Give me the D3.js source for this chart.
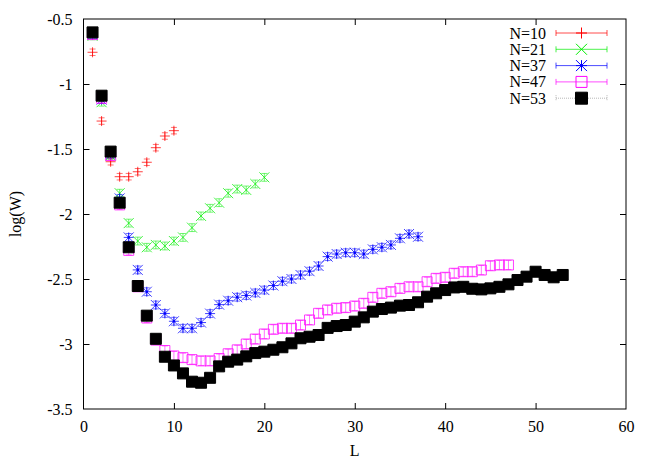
<!DOCTYPE html>
<html>
<head>
<meta charset="utf-8">
<script src="https://cdn.jsdelivr.net/npm/d3@7"></script>
<style>
  body { margin: 0; background: #fff; }
  text { font-family: "Liberation Serif", "Times New Roman", serif; font-size: 16px; fill: #000; }
</style>
</head>
<body>
<div id="plot"></div>
<script>
// values, index i -> L = i + 1
var n10 = [-0.756, -1.285, -1.598, -1.713, -1.713, -1.675, -1.602, -1.49, -1.40, -1.359];
var n21 = [-0.63, -1.14, -1.55, -1.84, -2.07, -2.208, -2.256, -2.238, -2.246, -2.208,
           -2.18, -2.105, -2.015, -1.956, -1.913, -1.84, -1.808, -1.815, -1.769, -1.718];
var n37 = [-0.62, -1.12, -1.54, -1.88, -2.18, -2.43, -2.598, -2.70, -2.765, -2.825,
           -2.879, -2.879, -2.835, -2.766, -2.697, -2.667, -2.64, -2.627, -2.607, -2.585,
           -2.55, -2.517, -2.5, -2.469, -2.44, -2.4, -2.328, -2.308, -2.298, -2.298,
           -2.308, -2.272, -2.256, -2.238, -2.187, -2.154, -2.175];
var n47 = [-0.62, -1.11, -1.55, -1.93, -2.28, -2.56, -2.80, -2.97, -3.05, -3.092,
           -3.105, -3.12, -3.13, -3.13, -3.112, -3.075, -3.045, -3.0, -2.962, -2.923,
           -2.887, -2.879, -2.879, -2.854, -2.815, -2.764, -2.738, -2.725, -2.72, -2.708,
           -2.687, -2.641, -2.61, -2.598, -2.572, -2.56, -2.56, -2.521, -2.495, -2.487,
           -2.456, -2.444, -2.444, -2.431, -2.398, -2.392, -2.392];
var n53 = [-0.603, -1.09, -1.52, -1.913, -2.256, -2.554, -2.782, -2.96, -3.098, -3.165,
           -3.226, -3.29, -3.298, -3.26, -3.172, -3.136, -3.12, -3.095, -3.07, -3.059,
           -3.044, -3.025, -2.995, -2.956, -2.944, -2.931, -2.876, -2.862, -2.854, -2.828,
           -2.795, -2.751, -2.731, -2.72, -2.705, -2.7, -2.679, -2.636, -2.61, -2.585,
           -2.565, -2.56, -2.575, -2.58, -2.572, -2.56, -2.541, -2.508, -2.482, -2.444,
           -2.469, -2.487, -2.469];

var seriesNames = ["N=10", "N=21", "N=37", "N=47", "N=53"];
var seriesValues = [n10, n21, n37, n47, n53];
var seriesErr = [0.025, 0.03, 0.03, 0.035, 0.03];
var seriesColors = ["#ff0000", "#00ee00", "#0000ff", "#ff00ff", "#000000"];
var seriesShapes = ["plus", "cross", "star", "box", "fbox"];

var xTicks = [0, 10, 20, 30, 40, 50, 60];
var yTicks = [-0.5, -1, -1.5, -2, -2.5, -3, -3.5];

var W = 654, H = 458;
var margin = {top: 19, right: 28, bottom: 49, left: 83.5};

var svg = d3.select("#plot")
  .append("svg")
  .attr("width", W)
  .attr("height", H);

var x = d3.scaleLinear()
  .domain([0, 60])
  .range([margin.left, W - margin.right]);

var y = d3.scaleLinear()
  .domain([-3.5, -0.5])
  .range([H - margin.bottom, margin.top]);

// border
svg.append("rect")
  .attr("x", x(0)).attr("y", y(-0.5))
  .attr("width", x(60) - x(0)).attr("height", y(-3.5) - y(-0.5))
  .attr("fill", "none").attr("stroke", "#000").attr("stroke-width", 1);

// ticks, mirrored, pointing inward
var tickLen = 6;
var plain = function(d) { return String(d); };
svg.append("g").attr("transform", "translate(0," + y(-3.5) + ")")
  .call(d3.axisBottom(x).tickValues(xTicks).tickSize(-tickLen).tickPadding(12).tickFormat(plain));
svg.append("g").attr("transform", "translate(0," + y(-0.5) + ")")
  .call(d3.axisTop(x).tickValues(xTicks).tickSize(-tickLen).tickFormat(""));
svg.append("g").attr("transform", "translate(" + x(0) + ",0)")
  .call(d3.axisLeft(y).tickValues(yTicks).tickSize(-tickLen).tickPadding(11).tickFormat(plain));
svg.append("g").attr("transform", "translate(" + x(60) + ",0)")
  .call(d3.axisRight(y).tickValues(yTicks).tickSize(-tickLen).tickFormat(""));

svg.selectAll(".domain").remove();
svg.selectAll(".tick line").attr("stroke", "#000");
svg.selectAll(".tick text")
  .attr("font-family", "Liberation Serif, serif")
  .attr("font-size", 16)
  .attr("fill", "#000");
// the end ticks sit on the border, hide them
svg.selectAll(".tick").filter(function(d) { return d === 0 || d === 60 || d === -0.5 || d === -3.5; })
  .select("line").remove();

// axis labels
svg.append("text")
  .attr("x", x(30)).attr("y", 456)
  .attr("text-anchor", "middle")
  .text("L");

svg.append("text")
  .attr("transform", "translate(21," + y(-2) + ") rotate(-90)")
  .attr("text-anchor", "middle")
  .text("log(W)");

// marker path
function symbol(shape, s) {
  if (shape == "plus") return "M" + (-s) + ",0H" + s + "M0," + (-s) + "V" + s;
  if (shape == "cross") return "M" + (-s) + "," + (-s) + "L" + s + "," + s + "M" + (-s) + "," + s + "L" + s + "," + (-s);
  if (shape == "star") return symbol("plus", s) + symbol("cross", s);
  return "M" + (-s) + "," + (-s) + "H" + s + "V" + s + "H" + (-s) + "Z";
}

var plot = svg.append("g");

seriesValues.forEach(function(vals, k) {
  var color = seriesColors[k];
  var shape = seriesShapes[k];
  var err = seriesErr[k];
  var s = shape == "fbox" ? 5.5 : 5;
  var g = plot.append("g");
  var pts = vals.map(function(v, i) { return {L: i + 1, v: v}; });

  // error bars
  var eb = g.selectAll(".eb").data(pts).enter().append("path")
    .attr("d", function(d) {
      var px = x(d.L), y0 = y(d.v - err), y1 = y(d.v + err), c = 3;
      return "M" + px + "," + y0 + "V" + y1 +
             "M" + (px - c) + "," + y0 + "H" + (px + c) +
             "M" + (px - c) + "," + y1 + "H" + (px + c);
    })
    .attr("fill", "none")
    .attr("stroke", shape == "fbox" ? "#999" : color)
    .attr("stroke-opacity", 0.55)
    .attr("stroke-width", 1);
  if (shape == "fbox") eb.attr("stroke-dasharray", "1,1");

  g.selectAll(".pt").data(pts).enter().append("path")
    .attr("transform", function(d) { return "translate(" + x(d.L) + "," + y(d.v) + ")"; })
    .attr("d", symbol(shape, s))
    .attr("fill", shape == "fbox" ? "#000" : "none")
    .attr("stroke", color)
    .attr("stroke-opacity", shape == "fbox" ? 1 : 0.75)
    .attr("stroke-width", 1);

  if (shape == "star") {
    g.selectAll(".dot").data(pts).enter().append("circle")
      .attr("cx", function(d) { return x(d.L); })
      .attr("cy", function(d) { return y(d.v); })
      .attr("r", 1.3)
      .attr("fill", color);
  }

  // legend row
  var ly = 33 + k * 16.3;
  var lx0 = 556, lx1 = 607, lxm = (lx0 + lx1) / 2;
  svg.append("text")
    .attr("x", 546).attr("y", ly + 5.5)
    .attr("text-anchor", "end")
    .text(seriesNames[k]);
  var leg = svg.append("path")
    .attr("d", "M" + lx0 + "," + ly + "H" + lx1 +
               "M" + lx0 + "," + (ly - 3) + "V" + (ly + 3) +
               "M" + lx1 + "," + (ly - 3) + "V" + (ly + 3))
    .attr("fill", "none")
    .attr("stroke", shape == "fbox" ? "#999" : color)
    .attr("stroke-opacity", 0.7)
    .attr("stroke-width", 1);
  if (shape == "fbox") leg.attr("stroke-dasharray", "1,1");
  svg.append("path")
    .attr("transform", "translate(" + lxm + "," + ly + ")")
    .attr("d", symbol(shape, s + 0.5))
    .attr("fill", shape == "fbox" ? "#000" : "none")
    .attr("stroke", color)
    .attr("stroke-width", 1);
  if (shape == "star") {
    svg.append("circle").attr("cx", lxm).attr("cy", ly).attr("r", 1.3).attr("fill", color);
  }
});
</script>
</body>
</html>
